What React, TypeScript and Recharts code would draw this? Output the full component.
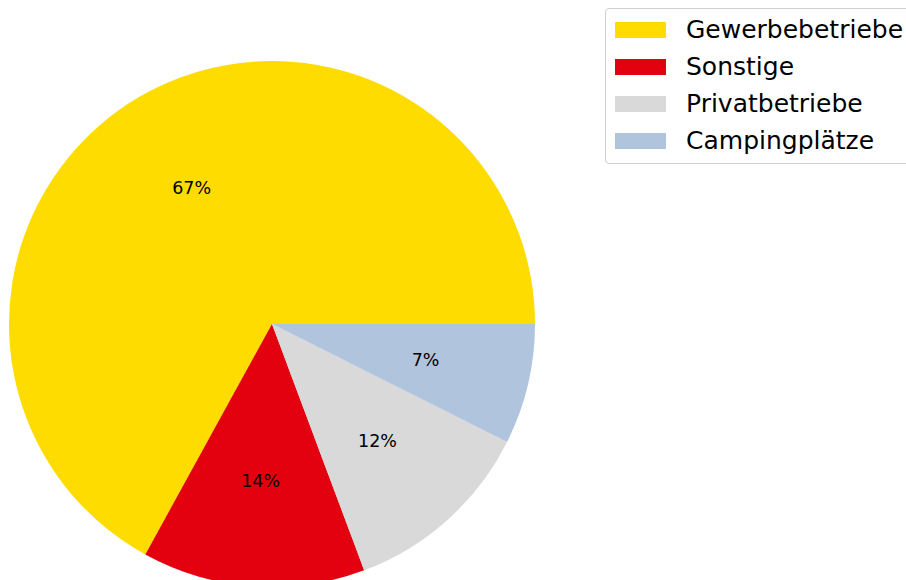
import React from 'react';
import { PieChart, Pie, Cell, Legend } from 'recharts';

const categories = ['Gewerbebetriebe', 'Sonstige', 'Privatbetriebe', 'Campingplätze'];
const values = [67.0, 13.7, 11.9, 7.4];
const colors = ['#FFDC00', '#E3000F', '#D9D9D9', '#B0C4DE'];

const data = categories.map((name, i) => ({ name, value: values[i] }));

const RAD = Math.PI / 180;
const FONT = '"DejaVu Sans", sans-serif';

const renderLabel = (props: any) => {
  const { cx, cy, midAngle, outerRadius, percent } = props;
  const r = outerRadius * 0.6;
  const x = cx + r * Math.cos(-midAngle * RAD);
  const y = cy + r * Math.sin(-midAngle * RAD);
  return (
    <text x={x} y={y} textAnchor="middle" dominantBaseline="central" fill="#000" fontSize={17.5} fontFamily={FONT}>
      {`${Math.round(percent * 100)}%`}
    </text>
  );
};

const LegendBox = () => (
  <div
    style={{
      width: 320,
      height: 156,
      border: '1px solid #d0d0d0',
      borderRadius: 4,
      background: '#fff',
      boxSizing: 'border-box',
      position: 'relative',
      fontFamily: FONT,
    }}
  >
    {categories.map((c, i) => (
      <div key={c} style={{ position: 'absolute', left: 0, top: i * 37, height: 0 }}>
        <div
          style={{
            position: 'absolute',
            left: 9,
            top: 13,
            width: 51,
            height: 16,
            background: colors[i],
          }}
        />
        <div
          style={{
            position: 'absolute',
            left: 80,
            top: 5,
            lineHeight: '32px',
            fontSize: 25,
            color: '#000',
            whiteSpace: 'nowrap',
          }}
        >
          {c}
        </div>
      </div>
    ))}
  </div>
);

export default function App() {
  return (
    <div style={{ position: 'absolute', left: 0, top: 0, width: 906, height: 580, overflow: 'hidden', background: '#fff' }}>
      <PieChart width={906} height={580} margin={{ top: 0, right: 0, bottom: 0, left: 0 }}>
        <Pie
          data={data}
          dataKey="value"
          nameKey="name"
          cx={272}
          cy={324}
          outerRadius={263}
          innerRadius={0}
          startAngle={0}
          endAngle={360}
          stroke="none"
          label={renderLabel}
          labelLine={false}
          isAnimationActive={false}
        >
          {data.map((d, i) => (
            <Cell key={d.name} fill={colors[i]} />
          ))}
        </Pie>
        <Legend
          content={() => <LegendBox />}
          wrapperStyle={{ position: 'absolute', left: 605, top: 8, width: 320, height: 156 }}
        />
      </PieChart>
    </div>
  );
}
